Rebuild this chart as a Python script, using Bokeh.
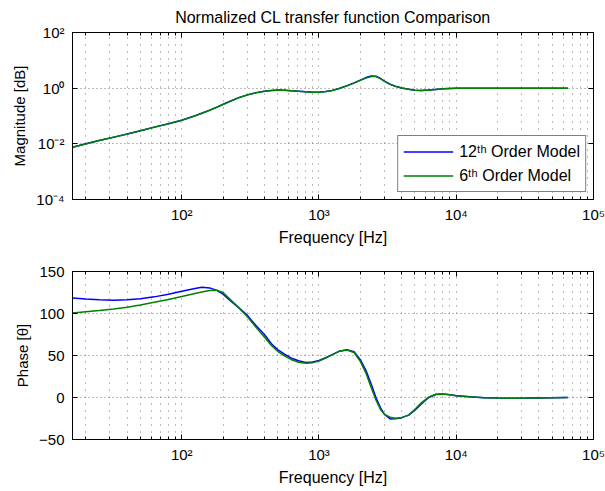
from bokeh.plotting import figure
from bokeh.layouts import column
from bokeh.models import (Range1d, FixedTicker, CustomJSTickFormatter, LogAxis,
                          LinearAxis, Legend, LegendItem, ColumnDataSource)
from bokeh.embed import file_html
from bokeh.resources import INLINE

# ---------------- data ----------------
freq = [16, 20, 25, 32, 40, 50, 63, 80, 100, 125,
        140, 160, 180, 200, 230, 260, 300, 350, 400, 450,
        500, 560, 630, 710, 800, 900, 1000, 1120, 1250, 1400,
        1600, 1800, 2000, 2200, 2400, 2600, 2800, 3000, 3300, 3600,
        4000, 4500, 5000, 5600, 6300, 7100, 8000, 9000, 10000, 12500,
        16000, 20000, 25000, 32000, 40000, 50000, 65000]

mag_12 = [0.0076, 0.0100, 0.0132, 0.0174, 0.0224, 0.0295, 0.0398, 0.0525, 0.0708, 0.102,
          0.126, 0.162, 0.209, 0.263, 0.355, 0.457, 0.575, 0.692, 0.776, 0.832,
          0.851, 0.841, 0.813, 0.776, 0.741, 0.716, 0.716, 0.759, 0.832, 0.977,
          1.23, 1.55, 1.95, 2.40, 2.75, 2.69, 2.24, 1.78, 1.38, 1.17,
          1.02, 0.912, 0.841, 0.822, 0.851, 0.902, 0.944, 0.973, 0.989, 1.0,
          1.0, 1.0, 1.0, 1.0, 1.0, 1.0, 1.0]

mag_6 = [0.0075, 0.0099, 0.0131, 0.0173, 0.0223, 0.0294, 0.0396, 0.0522, 0.0703, 0.101,
         0.125, 0.160, 0.206, 0.259, 0.350, 0.452, 0.570, 0.688, 0.774, 0.831,
         0.850, 0.840, 0.811, 0.773, 0.738, 0.714, 0.715, 0.757, 0.828, 0.970,
         1.21, 1.52, 1.90, 2.30, 2.62, 2.60, 2.20, 1.76, 1.37, 1.16,
         1.01, 0.910, 0.840, 0.822, 0.851, 0.902, 0.944, 0.973, 0.989, 1.0,
         1.0, 1.0, 1.0, 1.0, 1.0, 1.0, 1.0]

phase_12 = [118.5, 117.3, 116.3, 115.8, 116.3, 117.6, 119.8, 122.8, 126.5, 129.8,
            131.2, 130.5, 127.5, 123.0, 114.0, 107.0, 98.0, 85.0, 75.0, 64.0,
            57.0, 51.5, 46.8, 43.8, 41.8, 42.2, 44.0, 47.5, 51.0, 55.0,
            56.8, 54.5, 45.0, 32.0, 16.0, 0.0, -12.0, -20.0, -25.5, -25.3,
            -24.0, -21.0, -15.0, -7.5, 0.0, 3.5, 4.2, 3.3, 2.2, 0.8,
            -0.2, -0.7, -0.8, -0.7, -0.5, -0.3, 0.0]

phase_6 = [100.5, 102.0, 103.5, 105.3, 107.5, 110.2, 113.3, 116.6, 120.3, 123.8,
           125.5, 127.3, 127.8, 125.0, 115.5, 107.0, 96.5, 83.0, 72.0, 62.0,
           55.0, 49.5, 45.0, 42.0, 40.8, 41.5, 43.5, 47.0, 51.0, 55.0,
           56.5, 53.5, 43.0, 29.0, 12.0, -3.0, -14.0, -20.0, -23.5, -24.6,
           -24.0, -21.0, -14.0, -6.0, 0.5, 3.8, 4.2, 3.3, 2.2, 0.8,
           -0.2, -0.7, -0.8, -0.7, -0.5, -0.3, 0.0]

x_major = [1e2, 1e3, 1e4, 1e5]
x_minor = [m * d for d in (10, 100, 1000, 10000) for m in range(2, 10)]
mag_ticks = [1e-4, 1e-2, 1e0, 1e2]
phase_ticks = [-50, 0, 50, 100, 150]

title_text = "Normalized CL transfer function Comparison"
xlabel = "Frequency [Hz]"
ylabel_mag = "Magnitude [dB]"
ylabel_phase = "Phase [\u03b8]"
label_12 = "12\u1d57\u02b0 Order Model"
label_6 = "6\u1d57\u02b0 Order Model"

# ---------------- styling ----------------
FONT = "Liberation Sans"
FS = "15px"
FS_BIG = "16px"
BLUE = "#0000ff"
GREEN = "#008000"
GRID = "#7a7a7a"

src = ColumnDataSource(dict(freq=freq, mag_12=mag_12, mag_6=mag_6,
                            phase_12=phase_12, phase_6=phase_6))

pow_fmt = CustomJSTickFormatter(code="""
const sup = {"0":"\u2070","1":"\u00b9","2":"\u00b2","3":"\u00b3","4":"\u2074",
             "5":"\u2075","6":"\u2076","7":"\u2077","8":"\u2078","9":"\u2079","-":"\u207b"};
const e = Math.round(Math.log10(tick));
return "10" + String(e).split("").map(c => sup[c]).join("");
""")

blank_fmt = CustomJSTickFormatter(code="return ' ';")


def style_axis(ax, label_hidden=False):
    ax.major_label_text_font = FONT
    ax.major_label_text_font_size = FS
    ax.major_label_text_color = "black"
    ax.axis_label_text_font = FONT
    ax.axis_label_text_font_size = FS
    ax.axis_label_text_font_style = "normal"
    ax.axis_label_text_color = "black"
    ax.axis_line_color = "black"
    ax.major_tick_line_color = "black"
    ax.minor_tick_line_color = "black"
    ax.major_tick_in = 5
    ax.major_tick_out = 0
    ax.minor_tick_in = 3
    ax.minor_tick_out = 0
    if label_hidden:
        ax.formatter = blank_fmt
        ax.major_label_text_font_size = "1px"
        ax.major_label_text_alpha = 0
        ax.major_label_standoff = 0


def make_fig(height, ylog, yrange, yticks, ylabel, border_top, border_bottom):
    p = figure(width=605, height=height, x_axis_type="log",
               y_axis_type="log" if ylog else "linear",
               x_range=Range1d(16, 1e5), y_range=yrange,
               output_backend="svg", toolbar_location=None,
               min_border_left=72, min_border_right=12,
               min_border_top=border_top, min_border_bottom=border_bottom)
    p.outline_line_color = "black"
    p.outline_line_width = 1
    p.outline_line_alpha = 1
    p.background_fill_color = "white"
    p.border_fill_color = "white"

    xt = FixedTicker(ticks=x_major, minor_ticks=x_minor)
    yt = FixedTicker(ticks=yticks, minor_ticks=[])

    xa = p.xaxis[0]
    xa.ticker = xt
    xa.formatter = pow_fmt
    xa.axis_label = xlabel
    style_axis(xa)
    xa.axis_label_text_font_size = FS_BIG
    xa.major_label_standoff = 6
    xa.axis_label_standoff = 3

    ya = p.yaxis[0]
    ya.ticker = yt
    if ylog:
        ya.formatter = pow_fmt
    ya.axis_label = ylabel
    style_axis(ya)
    ya.major_label_standoff = 8
    ya.axis_label_standoff = 5

    # mirrored ticks (box on)
    top = LogAxis(ticker=xt)
    style_axis(top, label_hidden=True)
    p.add_layout(top, "above")
    right = (LogAxis if ylog else LinearAxis)(ticker=yt)
    style_axis(right, label_hidden=True)
    p.add_layout(right, "right")

    p.xgrid.ticker = xt
    p.ygrid.ticker = yt
    p.xgrid.grid_line_color = GRID
    p.xgrid.grid_line_dash = "1 6"
    p.xgrid.minor_grid_line_color = GRID
    p.xgrid.minor_grid_line_dash = "1 6"
    p.ygrid.grid_line_color = GRID
    p.ygrid.grid_line_dash = "1 3"
    return p


p1 = make_fig(250, True, Range1d(1e-4, 1e2), mag_ticks, ylabel_mag, 32, 51)
p1.title.text = title_text
p1.title.align = "center"
p1.title.text_font = FONT
p1.title.text_font_size = FS_BIG
p1.title.text_font_style = "normal"
p1.title.text_color = "black"
p1.title.standoff = 13

r1 = p1.line("freq", "mag_12", source=src, line_color=BLUE, line_width=1.5)
r2 = p1.line("freq", "mag_6", source=src, line_color=GREEN, line_width=1.5)

legend = Legend(items=[LegendItem(label=label_12, renderers=[r1]),
                       LegendItem(label=label_6, renderers=[r2])],
                location="bottom_right", margin=7, padding=5, spacing=3,
                glyph_width=50, glyph_height=21, label_standoff=6,
                label_text_font=FONT, label_text_font_size=FS_BIG,
                label_text_color="black",
                border_line_color="black", border_line_width=1,
                background_fill_color="white", background_fill_alpha=1)
p1.add_layout(legend)

p2 = make_fig(241, False, Range1d(-50, 150), phase_ticks, ylabel_phase, 21, 52)
p2.line("freq", "phase_12", source=src, line_color=BLUE, line_width=1.5)
p2.line("freq", "phase_6", source=src, line_color=GREEN, line_width=1.5)

layout = column(p1, p2, spacing=0)
open("out.html", "w").write(file_html(layout, INLINE))
